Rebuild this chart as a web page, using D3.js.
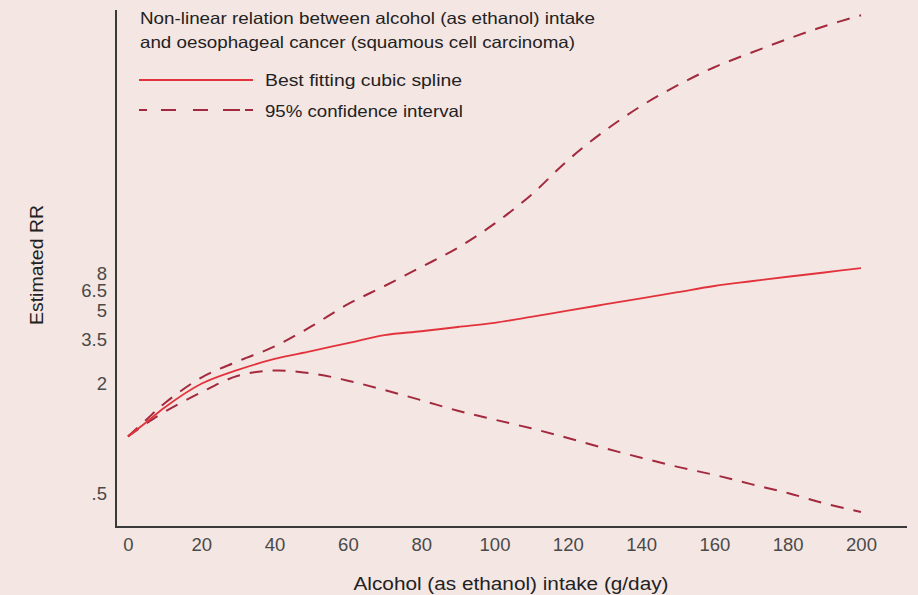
<!DOCTYPE html>
<html>
<head>
<meta charset="utf-8">
<script src="https://cdn.jsdelivr.net/npm/d3@7"></script>
<style>
  html, body { margin: 0; padding: 0; background: #f4e6e2; }
  svg { display: block; }
  text { font-family: "Liberation Sans", Arial, sans-serif; }
</style>
</head>
<body>
<svg id="chart" width="918" height="595"></svg>
<script>
// ---- Data ----
const intake = [0, 5, 10, 20, 30, 40, 50, 60, 70, 80, 90, 100, 110, 120, 130, 140, 150, 160, 170, 180, 190, 200];
const splineRR = [1.02, 1.22, 1.47, 1.98, 2.36, 2.71, 2.99, 3.31, 3.66, 3.84, 4.05, 4.27, 4.60, 4.98, 5.38, 5.81, 6.28, 6.79, 7.21, 7.63, 8.05, 8.51];
const upperRR = [1.02, 1.26, 1.55, 2.14, 2.63, 3.17, 4.08, 5.40, 6.79, 8.62, 11.0, 14.9, 21.4, 33.1, 47.9, 65.6, 85.3, 107, 128.4, 152.8, 179.4, 206];
const lowerRR = [1.02, 1.20, 1.39, 1.78, 2.19, 2.34, 2.26, 2.06, 1.83, 1.61, 1.41, 1.26, 1.13, 1.00, 0.88, 0.78, 0.695, 0.628, 0.559, 0.50, 0.439, 0.394];
const xTicks = [0, 20, 40, 60, 80, 100, 120, 140, 160, 180, 200];
const yTicks = [0.5, 2, 3.5, 5, 6.5, 8];
const yTickLabels = [".5", "2", "3.5", "5", "6.5", "8"];
const titleLines = ["Non-linear relation between alcohol (as ethanol) intake", "and oesophageal cancer (squamous cell carcinoma)"];
const legendLabels = ["Best fitting cubic spline", "95% confidence interval"];
const xTitle = "Alcohol (as ethanol) intake (g/day)";
const yTitle = "Estimated RR";

// ---- Layout ----
const svg = d3.select("#chart");
const axisLeftX = 116, axisBottomY = 527, axisTopY = 10, axisRightX = 907;
const solidColor = "#e2333d";
const dashColor = "#a3293f";
const axisColor = "#3a3a3a";

const x = d3.scaleLinear().domain([0, 200]).range([128, 861]);
const y = d3.scaleLog().domain([0.5, 8]).range([493, 273]);

// Axes lines (no tick marks)
svg.append("line").attr("x1", axisLeftX).attr("x2", axisLeftX).attr("y1", axisTopY).attr("y2", axisBottomY + 1)
  .attr("stroke", axisColor).attr("stroke-width", 2);
svg.append("line").attr("x1", axisLeftX - 1).attr("x2", axisRightX).attr("y1", axisBottomY).attr("y2", axisBottomY)
  .attr("stroke", axisColor).attr("stroke-width", 2);

// X tick labels via d3 axis
const xAxis = d3.axisBottom(x).tickValues(xTicks).tickSize(0).tickPadding(0).tickFormat(d3.format("d"));
const gx = svg.append("g").attr("transform", `translate(0,${axisBottomY + 11})`).call(xAxis);
gx.select(".domain").remove();
gx.selectAll("text").attr("font-size", 18.5).attr("fill", "#4a4a4a")
  .attr("font-family", "'Liberation Sans', Arial, sans-serif").attr("dy", "0.71em");

// Y tick labels via d3 axis
const yAxis = d3.axisLeft(y).tickValues(yTicks).tickSize(0).tickPadding(0)
  .tickFormat((d, i) => yTickLabels[i]);
const gy = svg.append("g").attr("transform", `translate(107,0)`).call(yAxis);
gy.select(".domain").remove();
gy.selectAll("text").attr("font-size", 18.5).attr("fill", "#4a4a4a")
  .attr("font-family", "'Liberation Sans', Arial, sans-serif").attr("dy", "0.36em");

// Axis titles
svg.append("text").attr("x", 511).attr("y", 590).attr("text-anchor", "middle")
  .attr("font-size", 17.5).attr("fill", "#222").text(xTitle)
  .attr("textLength", 315).attr("lengthAdjust", "spacingAndGlyphs");
svg.append("text").attr("transform", "translate(43,265) rotate(-90)").attr("text-anchor", "middle")
  .attr("font-size", 17.5).attr("fill", "#222").text(yTitle)
  .attr("textLength", 120).attr("lengthAdjust", "spacingAndGlyphs");

// Lines
const line = d3.line().x(d => x(d[0])).y(d => y(d[1])).curve(d3.curveCatmullRom.alpha(0.5));
const mk = arr => intake.map((v, i) => [v, arr[i]]);

svg.append("path").datum(mk(upperRR)).attr("d", line).attr("fill", "none")
  .attr("stroke", dashColor).attr("stroke-width", 2).attr("stroke-dasharray", "13,10");
svg.append("path").datum(mk(lowerRR)).attr("d", line).attr("fill", "none")
  .attr("stroke", dashColor).attr("stroke-width", 2).attr("stroke-dasharray", "13,10");
svg.append("path").datum(mk(splineRR)).attr("d", line).attr("fill", "none")
  .attr("stroke", solidColor).attr("stroke-width", 1.8);

// Title
const titleWidths = [455, 435];
titleLines.forEach((t, i) => {
  svg.append("text").attr("x", 140).attr("y", 24 + i * 23.5).attr("font-size", 16.5).attr("fill", "#222")
    .attr("textLength", titleWidths[i]).attr("lengthAdjust", "spacingAndGlyphs").text(t);
});

// Legend
svg.append("line").attr("x1", 139).attr("x2", 253).attr("y1", 80).attr("y2", 80)
  .attr("stroke", solidColor).attr("stroke-width", 1.8);
svg.append("line").attr("x1", 139).attr("x2", 253).attr("y1", 110).attr("y2", 110)
  .attr("stroke", dashColor).attr("stroke-width", 2).attr("stroke-dasharray", "8,14,15,17,15,15,17,5,8,100");
legendLabels.forEach((t, i) => {
  svg.append("text").attr("x", 265).attr("y", 86 + i * 30.5).attr("font-size", 16.5).attr("fill", "#222")
    .attr("textLength", i === 0 ? 197 : 198).attr("lengthAdjust", "spacingAndGlyphs").text(t);
});
</script>
</body>
</html>
